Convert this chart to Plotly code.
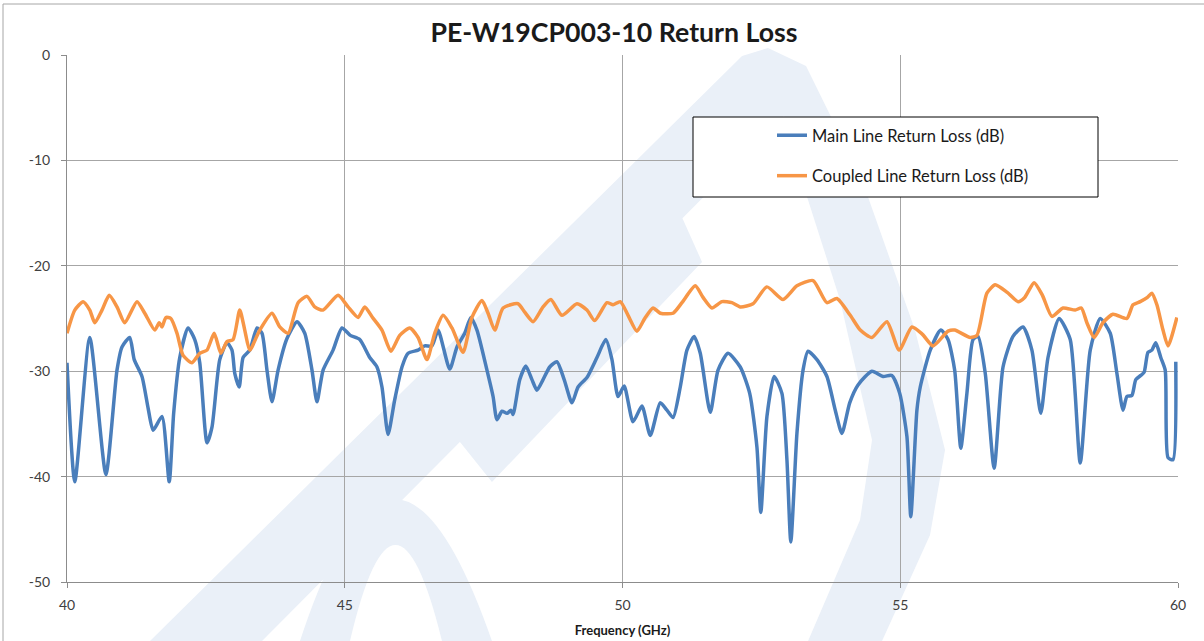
import plotly.graph_objects as go

# ---- data ----
main_freq = [40.00, 40.14, 40.41, 40.70, 40.90, 40.99, 41.13, 41.21, 41.35, 41.46, 41.55, 41.71, 41.84, 41.92,
             42.03, 42.18, 42.30, 42.39, 42.52, 42.61, 42.75, 42.88, 42.97, 43.02, 43.10, 43.17, 43.29, 43.42,
             43.51, 43.60, 43.69, 43.80, 43.96, 44.14, 44.28, 44.41, 44.50, 44.61, 44.79, 44.95, 45.10, 45.27,
             45.45, 45.58, 45.67, 45.78, 45.90, 46.03, 46.14, 46.32, 46.44, 46.57, 46.68, 46.89, 47.02, 47.16,
             47.27, 47.38, 47.56, 47.67, 47.74, 47.83, 47.92, 47.99, 48.03, 48.15, 48.26, 48.37, 48.46, 48.57,
             48.69, 48.82, 48.95, 49.09, 49.20, 49.36, 49.54, 49.70, 49.81, 49.92, 50.03, 50.19, 50.35, 50.50,
             50.68, 50.80, 50.91, 51.04, 51.16, 51.29, 51.40, 51.58, 51.72, 51.90, 52.12, 52.29, 52.42, 52.49,
             52.60, 52.73, 52.87, 52.96, 53.03, 53.14, 53.25, 53.34, 53.50, 53.68, 53.83, 53.95, 54.09, 54.24,
             54.49, 54.69, 54.85, 54.99, 55.12, 55.19, 55.30, 55.36, 55.54, 55.73, 55.86, 55.98, 56.09, 56.20,
             56.31, 56.40, 56.53, 56.69, 56.85, 57.03, 57.21, 57.37, 57.53, 57.66, 57.86, 58.06, 58.24, 58.42,
             58.60, 58.78, 58.90, 59.01, 59.08, 59.17, 59.24, 59.33, 59.39, 59.46, 59.53, 59.60, 59.69, 59.77,
             59.82, 59.91, 59.96]
main_rl = [-29.2, -40.5, -26.8, -39.8, -29.9, -27.7, -26.8, -28.9, -30.5, -33.5, -35.6, -34.3, -40.5, -34.0,
           -28.7, -25.9, -27.0, -29.2, -36.8, -35.3, -28.9, -27.3, -28.0, -30.2, -31.5, -28.7, -28.0, -25.9,
           -26.4, -29.9, -32.9, -29.9, -26.9, -25.3, -26.4, -29.9, -32.9, -29.9, -28.0, -25.9, -26.6, -27.0,
           -28.7, -29.6, -31.5, -36.0, -32.7, -29.6, -28.3, -28.0, -27.6, -27.6, -26.1, -29.8, -27.7, -26.4,
           -24.9, -26.1, -29.9, -32.4, -34.6, -33.8, -34.0, -33.7, -34.1, -30.8, -29.5, -30.8, -31.8, -30.8,
           -29.6, -29.1, -30.8, -33.0, -31.5, -30.6, -28.7, -27.0, -28.9, -32.4, -31.4, -34.8, -33.3, -36.1,
           -33.0, -33.7, -34.4, -31.5, -28.0, -26.7, -28.3, -33.9, -29.9, -28.3, -29.6, -32.1, -37.2, -43.4,
           -34.3, -30.5, -32.1, -38.4, -46.2, -35.9, -29.9, -28.1, -28.9, -30.5, -33.7, -35.9, -33.0, -31.3,
           -30.0, -30.5, -30.4, -32.1, -36.2, -43.8, -33.7, -31.5, -28.0, -26.1, -27.0, -29.9, -37.3, -32.1,
           -27.0, -26.7, -30.2, -39.2, -29.6, -26.7, -25.8, -28.0, -34.0, -28.7, -25.0, -27.0, -38.7, -28.0,
           -25.0, -26.4, -30.2, -33.7, -32.4, -32.3, -30.8, -30.4, -30.1, -28.2, -28.0, -27.3, -28.7, -29.9,
           -38.2, -38.4, -29.1]

coup_freq = [40.00, 40.14, 40.29, 40.41, 40.50, 40.63, 40.76, 40.90, 41.04, 41.26, 41.40, 41.58, 41.66, 41.71,
             41.78, 41.87, 41.98, 42.09, 42.25, 42.39, 42.52, 42.65, 42.77, 42.88, 42.99, 43.11, 43.20, 43.29,
             43.47, 43.69, 43.83, 43.98, 44.16, 44.32, 44.46, 44.61, 44.88, 45.06, 45.24, 45.36, 45.50, 45.67,
             45.83, 45.99, 46.17, 46.32, 46.48, 46.62, 46.77, 46.93, 47.13, 47.29, 47.47, 47.58, 47.70, 47.85,
             48.12, 48.24, 48.39, 48.57, 48.71, 48.91, 49.18, 49.36, 49.50, 49.72, 49.83, 49.96, 50.10, 50.26,
             50.40, 50.55, 50.68, 50.91, 51.07, 51.31, 51.45, 51.61, 51.79, 51.97, 52.12, 52.35, 52.60, 52.89,
             53.14, 53.43, 53.68, 53.86, 54.10, 54.28, 54.49, 54.76, 54.98, 55.21, 55.40, 55.59, 55.86, 55.98,
             56.26, 56.38, 56.56, 56.71, 56.92, 57.12, 57.24, 57.41, 57.56, 57.73, 57.93, 58.15, 58.26, 58.36,
             58.49, 58.65, 58.83, 59.08, 59.19, 59.32, 59.45, 59.53, 59.62, 59.73, 59.82, 59.98]
coup_rl = [-26.4, -24.2, -23.4, -24.2, -25.4, -24.2, -22.8, -23.9, -25.4, -23.4, -24.5, -26.1, -25.4, -25.8,
           -24.9, -25.0, -26.4, -28.5, -29.2, -28.3, -28.0, -26.4, -28.3, -27.2, -27.0, -24.2, -26.1, -28.0,
           -26.1, -24.5, -25.8, -26.4, -23.5, -22.9, -23.9, -24.2, -22.8, -23.9, -24.9, -23.9, -24.9, -26.1,
           -28.1, -26.6, -25.9, -26.8, -28.9, -26.4, -24.7, -25.9, -28.2, -24.9, -23.3, -24.5, -26.1, -24.0,
           -23.6, -24.4, -25.3, -23.9, -23.2, -24.7, -23.6, -24.2, -25.2, -23.5, -23.7, -23.4, -24.7, -26.2,
           -25.0, -24.0, -24.5, -24.5, -23.5, -21.9, -23.0, -24.0, -23.4, -23.5, -23.9, -23.6, -22.0, -23.2,
           -21.9, -21.4, -23.5, -23.1, -24.7, -26.1, -26.8, -25.3, -28.0, -25.8, -26.5, -27.6, -26.2, -26.1,
           -26.8, -26.6, -22.6, -21.8, -22.5, -23.4, -23.0, -21.6, -22.8, -24.8, -24.0, -24.2, -24.0, -25.4,
           -26.8, -25.4, -24.6, -25.0, -23.7, -23.4, -23.0, -22.6, -23.7, -26.1, -27.6, -24.9]

x_ticks = [40, 45, 50, 55, 60]
y_ticks = [0, -10, -20, -30, -40, -50]

title_text = "PE-W19CP003-10 Return Loss"
x_title = "Frequency (GHz)"
names = ["Main Line Return Loss (dB)", "Coupled Line Return Loss (dB)"]

# ---- layout geometry (pixels) ----
W, H = 1204, 641
L, R, T, B = 67, 1178, 55, 582


def px(x):
    return (x - L) / (R - L)


def py(y):
    return (B - y) / (B - T)


def path(points, closed=True):
    s = "M " + " L ".join(f"{px(a):.4f},{py(b):.4f}" for a, b in points)
    return s + (" Z" if closed else "")


WM = "#eaf0f8"
shapes = []
# faint watermark (decorative)
wm_polys = [
    [(150, 641), (262, 641), (792, 108), (768, 48), (742, 56)],
    [(768, 48), (806, 66), (862, 180), (915, 330), (945, 450), (930, 535), (882, 641), (808, 641),
     (860, 520), (872, 440), (840, 300), (792, 150)],
    [(676, 204), (702, 262), (492, 482), (452, 432)],
]
for poly in wm_polys:
    shapes.append(dict(type="path", xref="paper", yref="paper", path=path(poly),
                       fillcolor=WM, line=dict(width=0), layer="below"))
arch = (f"M {px(300):.4f},{py(641):.4f} Q {px(393):.4f},{py(357):.4f} {px(492):.4f},{py(641):.4f} "
        f"L {px(442):.4f},{py(641):.4f} Q {px(395):.4f},{py(449):.4f} {px(350):.4f},{py(641):.4f} Z")
shapes.append(dict(type="path", xref="paper", yref="paper", path=arch,
                   fillcolor=WM, line=dict(width=0), layer="below"))
# outer chart border
shapes.append(dict(type="rect", xref="paper", yref="paper", x0=px(3), x1=px(1230), y0=py(4), y1=py(700),
                   line=dict(color="#a6a6a6", width=1), fillcolor="rgba(0,0,0,0)", layer="below"))
# legend box
shapes.append(dict(type="rect", xref="paper", yref="paper", x0=px(693), x1=px(1098), y0=py(117), y1=py(197),
                   line=dict(color="#000000", width=1), fillcolor="white", layer="above"))

fig = go.Figure()
fig.add_trace(go.Scatter(x=main_freq, y=main_rl, mode="lines", name=names[0], legendgroup="a",
                         line=dict(color="#4a7ebb", width=3.5, shape="spline", smoothing=0.6)))
fig.add_trace(go.Scatter(x=coup_freq, y=coup_rl, mode="lines", name=names[1], legendgroup="b",
                         line=dict(color="#f79646", width=3.5, shape="spline", smoothing=0.6)))

axis_font = dict(family="Lato, Open Sans, sans-serif", size=14, color="#404040")
fig.update_layout(
    width=W, height=H,
    margin=dict(l=L, r=W - R, t=T, b=H - B, autoexpand=False),
    paper_bgcolor="white", plot_bgcolor="rgba(0,0,0,0)",
    title=dict(text=f"<b>{title_text}</b>", x=px(614), xanchor="center", y=1 - 33 / H, yanchor="middle",
               xref="paper", yref="container",
               font=dict(family="Lato, Open Sans, sans-serif", size=26.7, color="#1a1a1a")),
    xaxis=dict(range=[40, 60], tickvals=x_ticks, ticktext=[str(v) for v in x_ticks], automargin=False,
               showgrid=True, gridcolor="#a6a6a6", gridwidth=1,
               showline=True, linecolor="#8c8c8c", linewidth=1, ticks="outside", ticklen=5,
               tickcolor="#8c8c8c", tickfont=axis_font, zeroline=False, ticklabelstandoff=5,
               title=dict(text=f"<b>{x_title}</b>", standoff=14,
                          font=dict(family="Lato, Open Sans, sans-serif", size=13, color="#1a1a1a"))),
    yaxis=dict(range=[-50, 0], tickvals=y_ticks, ticktext=[str(v) for v in y_ticks], automargin=False,
               showgrid=True, gridcolor="#a6a6a6", gridwidth=1,
               showline=True, linecolor="#8c8c8c", linewidth=1, ticks="outside", ticklen=5,
               tickcolor="#8c8c8c", tickfont=axis_font, zeroline=False, ticklabelstandoff=8),
    legend=dict(x=px(772), xanchor="left", y=py(118), yanchor="top", bgcolor="rgba(0,0,0,0)",
                borderwidth=0, tracegroupgap=16, traceorder="grouped",
                font=dict(family="Lato, Open Sans, sans-serif", size=16.5, color="#1a1a1a")),
    shapes=shapes,
    showlegend=True,
)

fig.write_html("out.html", config={"displayModeBar": False},
               post_script="document.body.style.margin='0';document.body.style.overflow='hidden';")
